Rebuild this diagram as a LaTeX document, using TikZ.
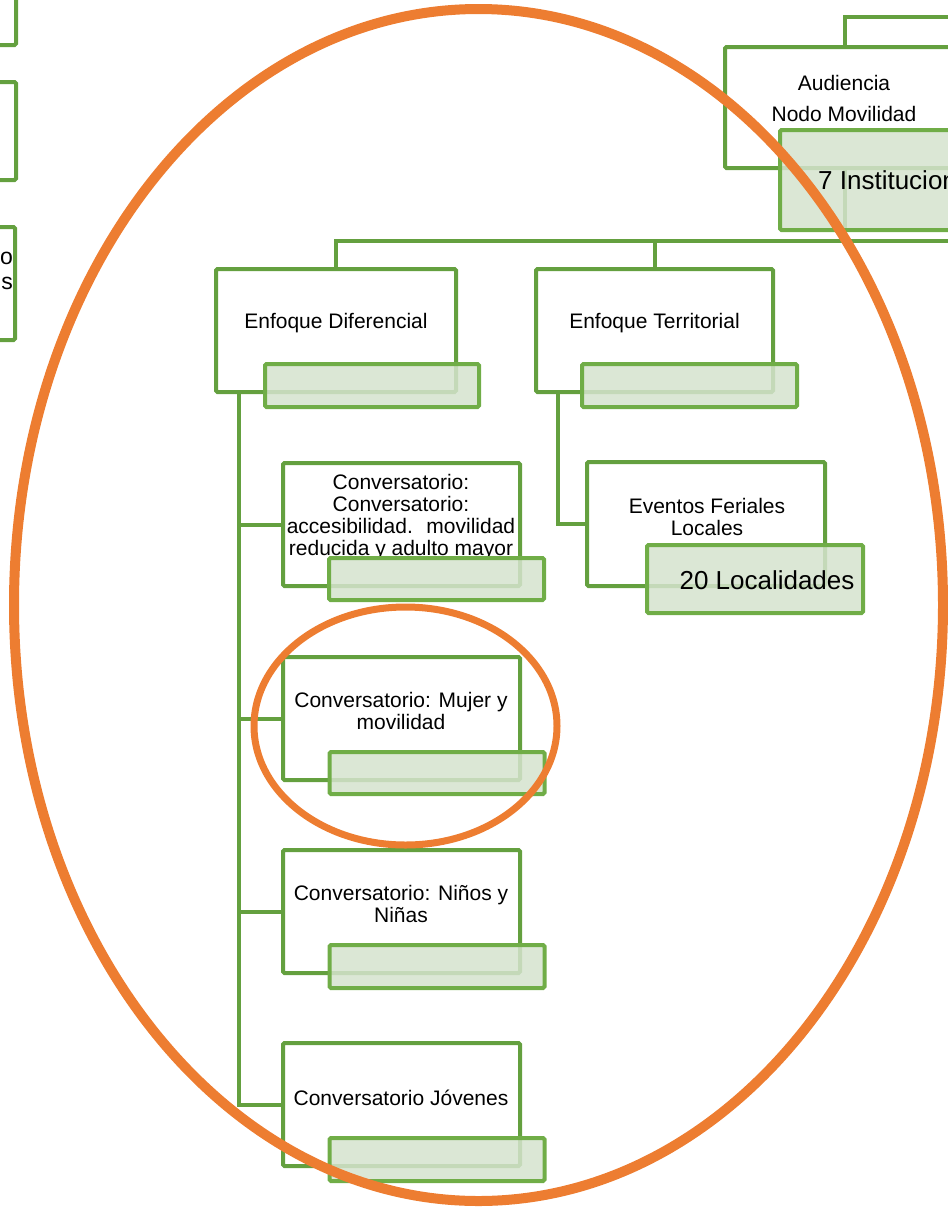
\documentclass[tikz,border=0pt]{standalone}
\usepackage{fontspec}
\setmainfont{Liberation Sans}
\definecolor{gmain}{HTML}{64A03F}
\definecolor{gsub}{HTML}{70AD47}
\definecolor{gfill}{HTML}{D5E3CE}
\definecolor{orng}{HTML}{ED7D31}
\pgfdeclarelayer{bg}
\pgfsetlayers{bg,main}
\begin{document}
\begin{tikzpicture}[x=1pt,y=-1pt,
  mainbox/.style={draw=gmain, line width=4pt, fill=white, rounded corners=1.5pt, inner sep=0pt, minimum width=238pt, minimum height=123pt},
  subbox/.style={draw=gsub, line width=4pt, fill=gfill, fill opacity=0.85, draw opacity=1, rounded corners=1.5pt, inner sep=0pt, minimum width=215pt, minimum height=43pt},
  conn/.style={draw=gmain, line width=4pt},
  txt/.style={font=\fontsize{21}{22}\selectfont, align=center, inner sep=0pt, text=black},
  bigtxt/.style={font=\fontsize{26}{30}\selectfont, inner sep=0pt, text=black},
  ring/.style={draw=orng}]
\useasboundingbox (0,0) rectangle (948,1211);
\clip (0,0) rectangle (948,1211);

% partial boxes at the left edge
\node[mainbox, minimum width=240pt, minimum height=123pt] (l1) at (-104,-16.5) {};
\node[mainbox, minimum width=240pt, minimum height=98pt] (l2) at (-104,131) {};
\node[mainbox, minimum width=240pt, minimum height=113pt] (l3) at (-105,283.5) {};
\node[txt, font=\fontsize{23}{25}\selectfont, align=right, anchor=east] (l3t) at (13,270.5) {o\\s};

% main boxes
\node[mainbox, minimum width=240pt, minimum height=121pt] (aud) at (845,107.5) {};
\node[mainbox, minimum width=240pt] (ed) at (336,330.5) {};
\node[mainbox, minimum width=237pt] (et) at (654.5,330.5) {};
\node[mainbox, minimum width=237pt] (c1) at (401.5,524.5) {};
\node[mainbox, minimum width=237pt] (c2) at (401.5,718.5) {};
\node[mainbox, minimum width=237pt] (c3) at (401.5,911.5) {};
\node[mainbox, minimum width=237pt] (c4) at (401.5,1104.5) {};
\node[mainbox, minimum width=238pt, minimum height=124pt] (ev) at (706,524) {};

% texts of main boxes
\node[txt] (audt) at (844,98.5) {Audiencia\\[9pt]Nodo Movilidad};
\node[txt] (edt) at (336,323.5) {Enfoque Diferencial};
\node[txt] (ett) at (654.5,323.5) {Enfoque Territorial};
\node[txt] (c1t) at (401,517) {Conversatorio:\\Conversatorio:\\accesibilidad.~ movilidad\\reducida y adulto mayor};
\node[txt] (c2t) at (401,710.5) {Conversatorio: Mujer y\\movilidad};
\node[txt] (c3t) at (401,903.5) {Conversatorio: Niños y\\Niñas};
\node[txt] (c4t) at (401,1098) {Conversatorio Jóvenes};
\node[txt] (evt) at (707,516.5) {Eventos Feriales\\Locales};

% connectors
\coordinate (busR) at (960,241);
\coordinate (topR) at (960,17);
\begin{pgfonlayer}{bg}
\draw[conn] (aud.north) |- (topR);
\draw[conn] (aud.south) -- (aud.south |- busR);
\draw[conn] (ed.north) |- (busR);
\draw[conn] (et.north) -- (et.north |- busR);
\draw[conn] ([xshift=25pt]ed.south west) |- (c4.west);
\draw[conn] ([xshift=25pt]ed.south west) |- (c1.west);
\draw[conn] ([xshift=25pt]ed.south west) |- (c2.west);
\draw[conn] ([xshift=25pt]ed.south west) |- (c3.west);
\draw[conn] ([xshift=24pt]et.south west) |- (ev.west);
\end{pgfonlayer}

% sub boxes
\node[subbox, minimum height=100pt] (auds) at (887.5,180) {};
\node[subbox, minimum width=214pt] (eds) at (372,385.5) {};
\node[subbox] (ets) at (689.5,385.5) {};
\node[subbox, minimum height=42pt] (c1s) at (436.5,579) {};
\node[subbox, minimum height=42pt] (c2s) at (437,773) {};
\node[subbox] (c3s) at (437,966.5) {};
\node[subbox] (c4s) at (437,1159.5) {};
\node[subbox, minimum width=216pt, minimum height=68pt] (evs) at (755,579) {};

\node[bigtxt, anchor=west] (audst) at (818,180) {7 Instituciones};
\node[bigtxt] (evst) at (767,580) {20 Localidades};

% orange highlight rings
\draw[ring, line width=10pt] (478.5,605) ellipse [x radius=464.5pt, y radius=596pt];
\draw[ring, line width=7pt] (405.5,726) ellipse [x radius=151.5pt, y radius=119pt];
\end{tikzpicture}
\end{document}
